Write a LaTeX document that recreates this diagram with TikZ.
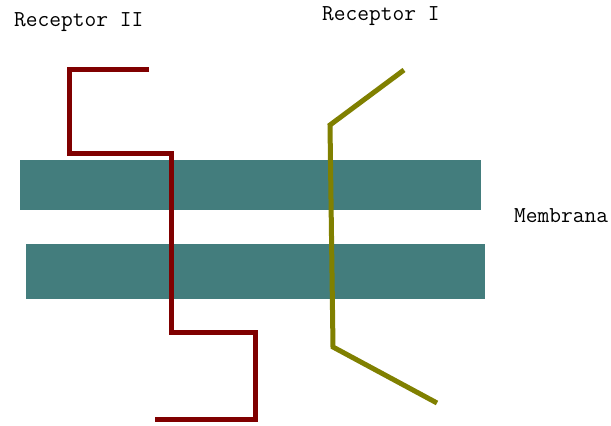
\documentclass[tikz,border=0pt]{standalone}
\usepackage{fontspec}
\setmonofont{Latin Modern Mono}
\definecolor{membrane}{RGB}{67,125,125}
\definecolor{recII}{RGB}{128,0,0}
\definecolor{recI}{RGB}{128,128,0}
\tikzset{
  label/.style={font=\ttfamily\fontsize{22.8}{27}\selectfont, inner sep=0pt, anchor=west, text=black},
  layer/.style={fill=membrane, draw=none},
  chain/.style={line width=5pt, line join=miter}
}
\begin{document}
\begin{tikzpicture}[x=1pt,y=-1pt]
  \useasboundingbox[fill=white] (0,0) rectangle (611,426);
  % lipid layers
  \fill[layer] (20,160) rectangle (481,210);
  \fill[layer] (26,244) rectangle (485,299);
  % receptor chains
  \draw[chain, recII] (149,69) -- (69,69) -- (69,153) -- (171,153) -- (171,332)
        -- (255,332) -- (255,419) -- (155,419);
  \draw[chain, recI] (404,70) -- (330,125) -- (333,347) -- (437,403);
  % labels
  \node[label] (r2) at (14,22) {Receptor II};
  \node[label] (r1) at (322,16) {Receptor I};
  \node[label] (mem) at (514,216) {Membrana};
\end{tikzpicture}
\end{document}
